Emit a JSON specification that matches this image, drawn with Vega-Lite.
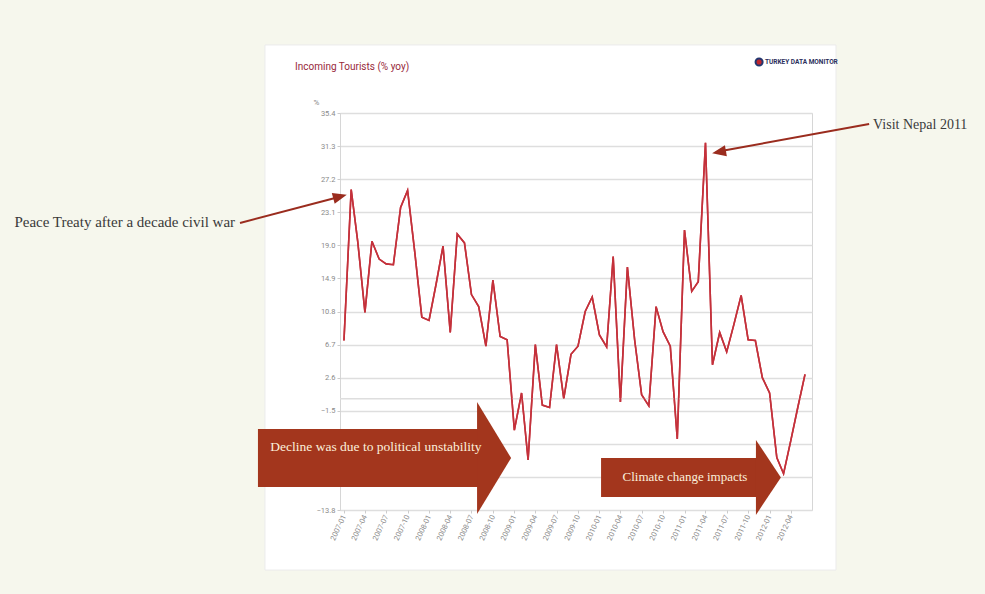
{
  "$schema": "https://vega.github.io/schema/vega-lite/v6.json",
  "width": 472,
  "height": 397,
  "autosize": {"type": "none"},
  "padding": {"left": 340, "top": 113, "right": 173, "bottom": 84},
  "background": "#ffffff",
  "config": {"view": {"stroke": "#d6d6d6", "strokeWidth": 1}, "font": "Liberation Sans"},
  "datasets": {
    "tourism": [
      {"month": "2007-01-01", "value": 7.2}, {"month": "2007-02-01", "value": 25.9}, {"month": "2007-03-01", "value": 19.5},
      {"month": "2007-04-01", "value": 10.7}, {"month": "2007-05-01", "value": 19.5}, {"month": "2007-06-01", "value": 17.3},
      {"month": "2007-07-01", "value": 16.7}, {"month": "2007-08-01", "value": 16.6}, {"month": "2007-09-01", "value": 23.7},
      {"month": "2007-10-01", "value": 25.8}, {"month": "2007-11-01", "value": 18.1}, {"month": "2007-12-01", "value": 10.1},
      {"month": "2008-01-01", "value": 9.7}, {"month": "2008-02-01", "value": 14.3}, {"month": "2008-03-01", "value": 18.9},
      {"month": "2008-04-01", "value": 8.2}, {"month": "2008-05-01", "value": 20.4}, {"month": "2008-06-01", "value": 19.3},
      {"month": "2008-07-01", "value": 12.9}, {"month": "2008-08-01", "value": 11.4}, {"month": "2008-09-01", "value": 6.5},
      {"month": "2008-10-01", "value": 14.7}, {"month": "2008-11-01", "value": 7.7}, {"month": "2008-12-01", "value": 7.3},
      {"month": "2009-01-01", "value": -3.9}, {"month": "2009-02-01", "value": 0.7}, {"month": "2009-03-01", "value": -7.6},
      {"month": "2009-04-01", "value": 6.7}, {"month": "2009-05-01", "value": -0.8}, {"month": "2009-06-01", "value": -1.1},
      {"month": "2009-07-01", "value": 6.7}, {"month": "2009-08-01", "value": 0.0}, {"month": "2009-09-01", "value": 5.5},
      {"month": "2009-10-01", "value": 6.5}, {"month": "2009-11-01", "value": 10.8}, {"month": "2009-12-01", "value": 12.6},
      {"month": "2010-01-01", "value": 7.9}, {"month": "2010-02-01", "value": 6.4}, {"month": "2010-03-01", "value": 17.6},
      {"month": "2010-04-01", "value": -0.4}, {"month": "2010-05-01", "value": 16.3}, {"month": "2010-06-01", "value": 7.3},
      {"month": "2010-07-01", "value": 0.5}, {"month": "2010-08-01", "value": -0.9}, {"month": "2010-09-01", "value": 11.4},
      {"month": "2010-10-01", "value": 8.3}, {"month": "2010-11-01", "value": 6.5}, {"month": "2010-12-01", "value": -5.0},
      {"month": "2011-01-01", "value": 20.9}, {"month": "2011-02-01", "value": 13.3}, {"month": "2011-03-01", "value": 14.5},
      {"month": "2011-04-01", "value": 31.7}, {"month": "2011-05-01", "value": 4.2}, {"month": "2011-06-01", "value": 8.2},
      {"month": "2011-07-01", "value": 5.8}, {"month": "2011-08-01", "value": 9.2}, {"month": "2011-09-01", "value": 12.8},
      {"month": "2011-10-01", "value": 7.3}, {"month": "2011-11-01", "value": 7.2}, {"month": "2011-12-01", "value": 2.6},
      {"month": "2012-01-01", "value": 0.7}, {"month": "2012-02-01", "value": -7.3}, {"month": "2012-03-01", "value": -9.3},
      {"month": "2012-04-01", "value": -5.2}, {"month": "2012-05-01", "value": -1.1}, {"month": "2012-06-01", "value": 3.0}
    ]
  },
  "layer": [
    {
      "data": {"name": "tourism"},
      "mark": {"type": "line", "color": "#c4313b", "strokeWidth": 1.6},
      "encoding": {
        "x": {
          "field": "month", "type": "temporal",
          "scale": {"type": "utc", "domain": [{"year": 2006, "month": 12, "date": 15, "utc": true}, {"year": 2012, "month": 7, "date": 1, "utc": true}], "nice": false},
          "axis": {
            "title": null, "grid": false, "domain": false, "format": "%Y-%m", "labelAngle": -65, "labelOverlap": false, "tickCount": 40,
            "labelFont": "Roboto", "labelFontSize": 7.5, "labelColor": "#8a8a8a", "labelPadding": 2,
            "tickSize": 3, "tickColor": "#cccccc",
            "values": [
              {"year": 2007, "month": 1, "utc": true}, {"year": 2007, "month": 4, "utc": true}, {"year": 2007, "month": 7, "utc": true}, {"year": 2007, "month": 10, "utc": true},
              {"year": 2008, "month": 1, "utc": true}, {"year": 2008, "month": 4, "utc": true}, {"year": 2008, "month": 7, "utc": true}, {"year": 2008, "month": 10, "utc": true},
              {"year": 2009, "month": 1, "utc": true}, {"year": 2009, "month": 4, "utc": true}, {"year": 2009, "month": 7, "utc": true}, {"year": 2009, "month": 10, "utc": true},
              {"year": 2010, "month": 1, "utc": true}, {"year": 2010, "month": 4, "utc": true}, {"year": 2010, "month": 7, "utc": true}, {"year": 2010, "month": 10, "utc": true},
              {"year": 2011, "month": 1, "utc": true}, {"year": 2011, "month": 4, "utc": true}, {"year": 2011, "month": 7, "utc": true}, {"year": 2011, "month": 10, "utc": true},
              {"year": 2012, "month": 1, "utc": true}, {"year": 2012, "month": 4, "utc": true}
            ]
          }
        },
        "y": {
          "field": "value", "type": "quantitative",
          "scale": {"domain": [-13.8, 35.4], "nice": false, "zero": false},
          "axis": {
            "title": "%", "titleAngle": 0, "titleX": -24, "titleY": -11, "titleAlign": "center", "titleBaseline": "middle",
            "titleFont": "Roboto", "titleFontSize": 8, "titleFontWeight": "normal", "titleColor": "#888888",
            "values": [-13.8, -9.7, -5.6, -1.5, 2.6, 6.7, 10.8, 14.9, 19.0, 23.1, 27.2, 31.3, 35.4], "tickCount": 40,
            "format": ".1f", "labelExpr": "datum.value < -5 && datum.value > -10 ? '' : datum.label", "labelOverlap": false,
            "grid": true, "gridColor": "#dedede", "gridWidth": 1.5, "domain": false,
            "tickSize": 3, "tickColor": "#cccccc", "labelFont": "Roboto", "labelFontSize": 7.5,
            "labelColor": "#8a8a8a", "labelPadding": 2
          }
        }
      }
    },
    {
      "data": {"values": [{}]},
      "mark": {"type": "rect", "fill": "#f6f7ed", "clip": false},
      "encoding": {
        "x": {"datum": {"year": 2000, "month": 1, "date": 1, "utc": true}, "type": "temporal"},
        "x2": {"datum": {"year": 2006, "month": 1, "date": 27, "utc": true}},
        "y": {"datum": 70, "type": "quantitative"},
        "y2": {"datum": -45}
      }
    },
    {
      "data": {"values": [{}]},
      "mark": {"type": "rect", "fill": "#f6f7ed", "clip": false},
      "encoding": {
        "x": {"datum": {"year": 2012, "month": 10, "date": 12, "utc": true}, "type": "temporal"},
        "x2": {"datum": {"year": 2016, "month": 1, "date": 1, "utc": true}},
        "y": {"datum": 70, "type": "quantitative"},
        "y2": {"datum": -45}
      }
    },
    {
      "data": {"values": [{}]},
      "mark": {"type": "rect", "fill": "#f6f7ed", "clip": false},
      "encoding": {
        "x": {"datum": {"year": 2000, "month": 1, "date": 1, "utc": true}, "type": "temporal"},
        "x2": {"datum": {"year": 2016, "month": 1, "date": 1, "utc": true}},
        "y": {"datum": 70, "type": "quantitative"},
        "y2": {"datum": 43.83}
      }
    },
    {
      "data": {"values": [{}]},
      "mark": {"type": "rect", "fill": "#f6f7ed", "clip": false},
      "encoding": {
        "x": {"datum": {"year": 2000, "month": 1, "date": 1, "utc": true}, "type": "temporal"},
        "x2": {"datum": {"year": 2016, "month": 1, "date": 1, "utc": true}},
        "y": {"datum": -21.24, "type": "quantitative"},
        "y2": {"datum": -45}
      }
    },
    {
      "data": {"values": [{}]},
      "mark": {"type": "rect", "fill": null, "stroke": "#ebebeb", "strokeWidth": 1, "clip": false},
      "encoding": {
        "x": {"datum": {"year": 2006, "month": 1, "date": 27, "utc": true}, "type": "temporal"},
        "x2": {"datum": {"year": 2012, "month": 10, "date": 12, "utc": true}},
        "y": {"datum": 43.83, "type": "quantitative"},
        "y2": {"datum": -21.24}
      }
    },
    {
      "data": {"values": [{}]},
      "mark": {"type": "rule", "color": "#dedede", "strokeWidth": 1.5},
      "encoding": {"y": {"datum": 0, "type": "quantitative"}}
    },
    {
      "data": {"name": "tourism"},
      "mark": {"type": "line", "color": "#c4313b", "strokeWidth": 1.6},
      "encoding": {
        "x": {"field": "month", "type": "temporal"},
        "y": {"field": "value", "type": "quantitative"}
      }
    },
    {
      "data": {"values": [{}]},
      "mark": {"type": "rect", "fill": "#a3361d", "clip": false},
      "encoding": {
        "x": {"datum": {"year": 2005, "month": 12, "date": 28, "utc": true}, "type": "temporal"},
        "x2": {"datum": {"year": 2008, "month": 7, "date": 29, "utc": true}},
        "y": {"datum": -3.76, "type": "quantitative"},
        "y2": {"datum": -10.95}
      }
    },
    {
      "data": {"values": [{}]},
      "mark": {"type": "point", "shape": "M -0.304 -1 L 0.304 0 L -0.304 1 Z", "size": 12544, "filled": true, "fill": "#a3361d", "opacity": 1, "strokeWidth": 0, "clip": false},
      "encoding": {
        "x": {"datum": {"year": 2008, "month": 10, "date": 6, "utc": true}, "type": "temporal"},
        "y": {"datum": -7.36, "type": "quantitative"}
      }
    },
    {
      "data": {"values": [{}]},
      "mark": {"type": "rect", "fill": "#a3361d", "clip": false},
      "encoding": {
        "x": {"datum": {"year": 2010, "month": 1, "date": 8, "utc": true}, "type": "temporal"},
        "x2": {"datum": {"year": 2011, "month": 11, "date": 8, "utc": true}},
        "y": {"datum": -7.36, "type": "quantitative"},
        "y2": {"datum": -12.19}
      }
    },
    {
      "data": {"values": [{}]},
      "mark": {"type": "point", "shape": "M -0.333 -1 L 0.333 0 L -0.333 1 Z", "size": 5625, "filled": true, "fill": "#a3361d", "opacity": 1, "strokeWidth": 0, "clip": false},
      "encoding": {
        "x": {"datum": {"year": 2011, "month": 12, "date": 27, "utc": true}, "type": "temporal"},
        "y": {"datum": -9.77, "type": "quantitative"}
      }
    },
    {
      "data": {"values": [{}]},
      "mark": {"type": "text", "text": "Decline was due to political unstability", "font": "Liberation Serif", "fontSize": 13.5, "color": "#fbf0dc", "align": "center", "baseline": "middle", "clip": false},
      "encoding": {
        "x": {"datum": {"year": 2007, "month": 5, "date": 18, "utc": true}, "type": "temporal"},
        "y": {"datum": -5.99, "type": "quantitative"}
      }
    },
    {
      "data": {"values": [{}]},
      "mark": {"type": "text", "text": "Climate change impacts", "font": "Liberation Serif", "fontSize": 13, "color": "#fbf0dc", "align": "center", "baseline": "middle", "clip": false},
      "encoding": {
        "x": {"datum": {"year": 2011, "month": 1, "date": 3, "utc": true}, "type": "temporal"},
        "y": {"datum": -9.71, "type": "quantitative"}
      }
    },
    {
      "data": {"values": [{}]},
      "mark": {"type": "rule", "color": "#9a2c1e", "strokeWidth": 2, "clip": false},
      "encoding": {
        "x": {"datum": {"year": 2005, "month": 10, "date": 12, "utc": true}, "type": "temporal"},
        "y": {"datum": 21.77, "type": "quantitative"},
        "x2": {"datum": {"year": 2006, "month": 11, "date": 24, "utc": true}},
        "y2": {"datum": 24.87}
      }
    },
    {
      "data": {"values": [{}]},
      "mark": {"type": "point", "shape": "M -1 -0.8 L 1 0 L -1 0.8 Z", "size": 196, "angle": -15, "filled": true, "fill": "#9a2c1e", "opacity": 1, "strokeWidth": 0, "clip": false},
      "encoding": {
        "x": {"datum": {"year": 2006, "month": 12, "date": 15, "utc": true}, "type": "temporal"},
        "y": {"datum": 25.05, "type": "quantitative"}
      }
    },
    {
      "data": {"values": [{}]},
      "mark": {"type": "text", "text": "Peace Treaty after a decade civil war", "font": "Liberation Serif", "fontSize": 15, "color": "#3a3a3a", "align": "right", "baseline": "middle", "clip": false},
      "encoding": {
        "x": {"datum": {"year": 2005, "month": 9, "date": 21, "utc": true}, "type": "temporal"},
        "y": {"datum": 21.89, "type": "quantitative"}
      }
    },
    {
      "data": {"values": [{}]},
      "mark": {"type": "rule", "color": "#9a2c1e", "strokeWidth": 2, "clip": false},
      "encoding": {
        "x": {"datum": {"year": 2013, "month": 3, "date": 3, "utc": true}, "type": "temporal"},
        "y": {"datum": 34.04, "type": "quantitative"},
        "x2": {"datum": {"year": 2011, "month": 6, "date": 19, "utc": true}},
        "y2": {"datum": 30.75}
      }
    },
    {
      "data": {"values": [{}]},
      "mark": {"type": "point", "shape": "M -1 -0.8 L 1 0 L -1 0.8 Z", "size": 196, "angle": 170, "filled": true, "fill": "#9a2c1e", "opacity": 1, "strokeWidth": 0, "clip": false},
      "encoding": {
        "x": {"datum": {"year": 2011, "month": 5, "date": 29, "utc": true}, "type": "temporal"},
        "y": {"datum": 30.57, "type": "quantitative"}
      }
    },
    {
      "data": {"values": [{}]},
      "mark": {"type": "text", "text": "Visit Nepal 2011", "font": "Liberation Serif", "fontSize": 14, "color": "#3a3a3a", "align": "left", "baseline": "middle", "clip": false},
      "encoding": {
        "x": {"datum": {"year": 2013, "month": 3, "date": 20, "utc": true}, "type": "temporal"},
        "y": {"datum": 33.91, "type": "quantitative"}
      }
    },
    {
      "data": {"values": [{}]},
      "mark": {"type": "text", "text": "Incoming Tourists (% yoy)", "font": "Roboto", "fontSize": 10, "color": "#98283a", "align": "left", "baseline": "middle", "clip": false},
      "encoding": {
        "x": {"datum": {"year": 2006, "month": 6, "date": 5, "utc": true}, "type": "temporal"},
        "y": {"datum": 41.1, "type": "quantitative"}
      }
    },
    {
      "data": {"values": [{}]},
      "mark": {"type": "point", "shape": "circle", "size": 50, "filled": true, "fill": "#c0262d", "stroke": "#23366f", "strokeWidth": 2, "opacity": 1, "clip": false},
      "encoding": {
        "x": {"datum": {"year": 2011, "month": 11, "date": 17, "utc": true}, "type": "temporal"},
        "y": {"datum": 41.72, "type": "quantitative"}
      }
    },
    {
      "data": {"values": [{}]},
      "mark": {"type": "text", "text": "TURKEY DATA MONITOR", "font": "Roboto", "fontSize": 6.5, "fontWeight": "bold", "color": "#2b2f5c", "align": "left", "baseline": "middle", "clip": false},
      "encoding": {
        "x": {"datum": {"year": 2011, "month": 12, "date": 12, "utc": true}, "type": "temporal"},
        "y": {"datum": 41.72, "type": "quantitative"}
      }
    }
  ]
}
